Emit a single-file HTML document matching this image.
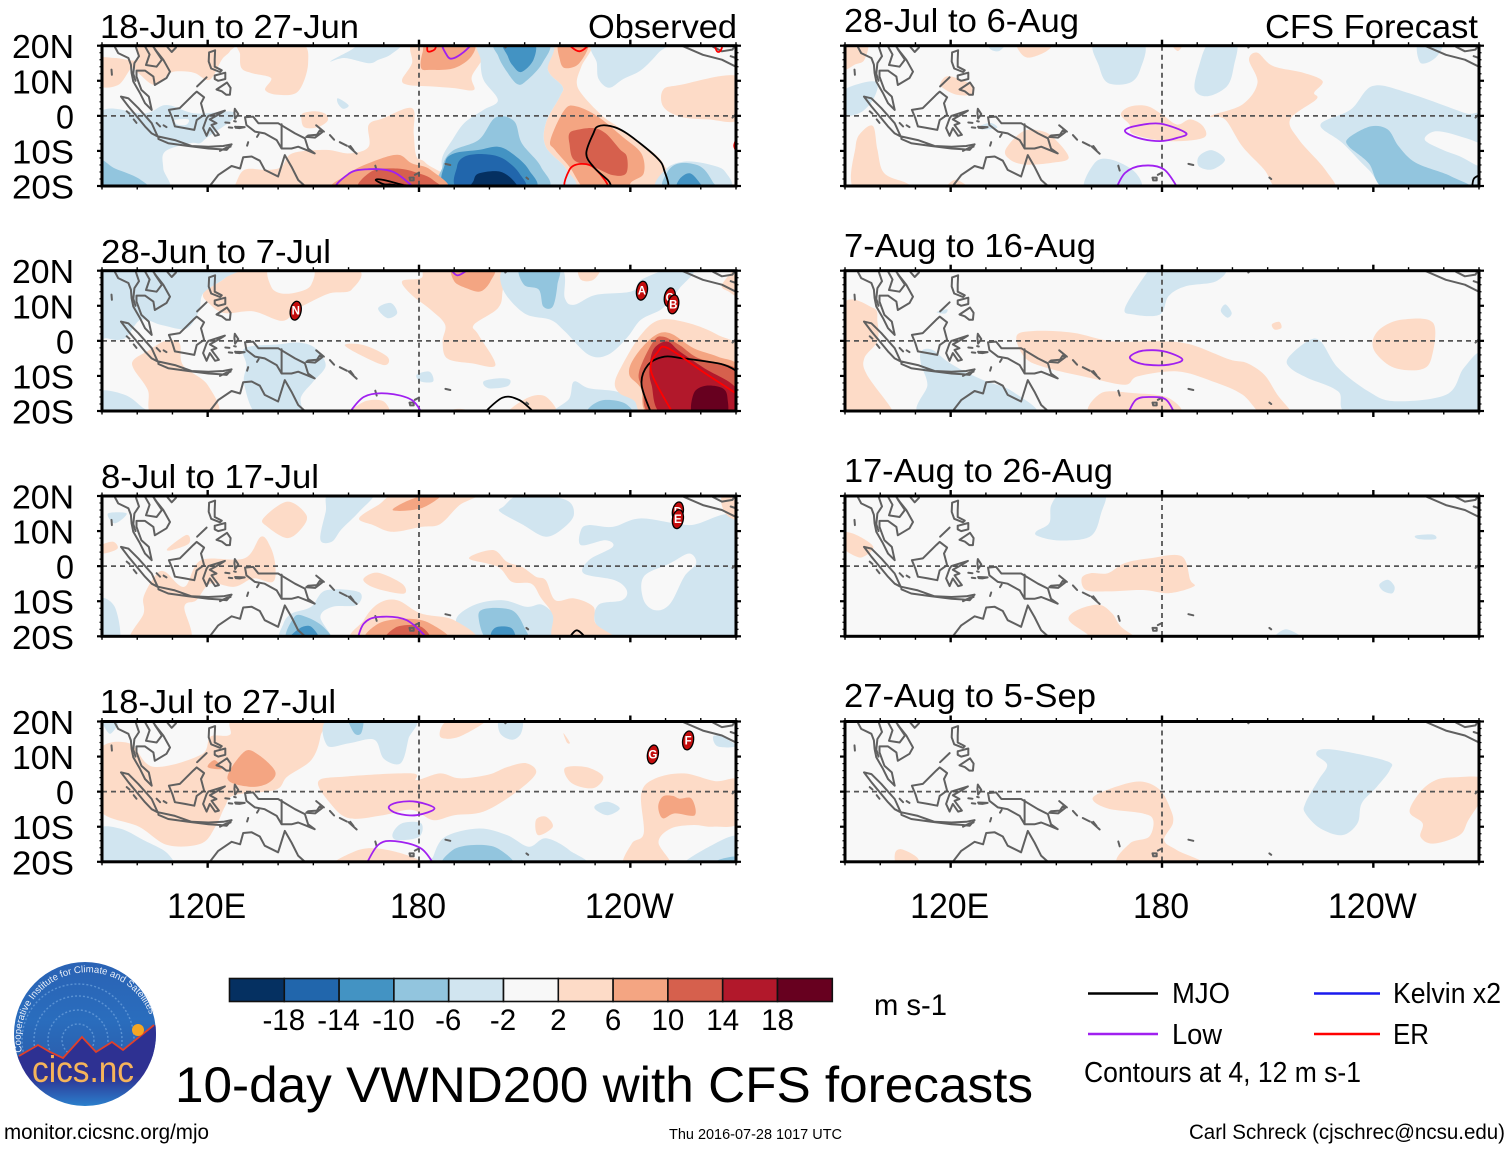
<!DOCTYPE html>
<html lang="en">
<head>
<meta charset="utf-8">
<title>10-day VWND200 with CFS forecasts</title>
<style>
html,body{margin:0;padding:0;background:#fff;}
svg{display:block;}
text{font-family:"Liberation Sans",sans-serif;fill:#000;}
</style>
</head>
<body>
<svg id="figure" xmlns="http://www.w3.org/2000/svg" width="1510" height="1149" viewBox="0 0 1510 1149">
<g id="panels"></g>

<g font-size="33.5">
<text x="100" y="38" textLength="259" lengthAdjust="spacingAndGlyphs">18-Jun to 27-Jun</text>
<text x="588" y="38" textLength="149" lengthAdjust="spacingAndGlyphs">Observed</text>
<text x="101" y="263" textLength="230" lengthAdjust="spacingAndGlyphs">28-Jun to 7-Jul</text>
<text x="101" y="488" textLength="218" lengthAdjust="spacingAndGlyphs">8-Jul to 17-Jul</text>
<text x="100" y="713" textLength="236" lengthAdjust="spacingAndGlyphs">18-Jul to 27-Jul</text>
<text x="844" y="32" textLength="235" lengthAdjust="spacingAndGlyphs">28-Jul to 6-Aug</text>
<text x="1265" y="38" textLength="213" lengthAdjust="spacingAndGlyphs">CFS Forecast</text>
<text x="844" y="257" textLength="252" lengthAdjust="spacingAndGlyphs">7-Aug to 16-Aug</text>
<text x="844" y="482" textLength="269" lengthAdjust="spacingAndGlyphs">17-Aug to 26-Aug</text>
<text x="844" y="707" textLength="252" lengthAdjust="spacingAndGlyphs">27-Aug to 5-Sep</text>
</g>

<g id="colorbar"></g>

<text x="874" y="1015" font-size="30" textLength="73" lengthAdjust="spacingAndGlyphs">m s-1</text>

<g font-size="29">
<line x1="1088" x2="1158" y1="993.5" y2="993.5" stroke="#000" stroke-width="2.4"/>
<text x="1172" y="1003" textLength="58" lengthAdjust="spacingAndGlyphs">MJO</text>
<line x1="1314" x2="1380" y1="993.5" y2="993.5" stroke="#1a1aee" stroke-width="2.4"/>
<text x="1393" y="1003" textLength="108" lengthAdjust="spacingAndGlyphs">Kelvin x2</text>
<line x1="1088" x2="1158" y1="1034" y2="1034" stroke="#a020f0" stroke-width="2.4"/>
<text x="1172" y="1044" textLength="50" lengthAdjust="spacingAndGlyphs">Low</text>
<line x1="1314" x2="1380" y1="1034" y2="1034" stroke="#f00" stroke-width="2.4"/>
<text x="1393" y="1044" textLength="36" lengthAdjust="spacingAndGlyphs">ER</text>
<text x="1084" y="1082" textLength="277" lengthAdjust="spacingAndGlyphs">Contours at 4, 12 m s-1</text>
</g>

<text x="175" y="1102" font-size="50" textLength="858" lengthAdjust="spacingAndGlyphs">10-day VWND200 with CFS forecasts</text>
<text x="4" y="1139" font-size="21" textLength="205" lengthAdjust="spacingAndGlyphs">monitor.cicsnc.org/mjo</text>
<text x="669" y="1139" font-size="14.5" textLength="173" lengthAdjust="spacingAndGlyphs">Thu 2016-07-28 1017 UTC</text>
<text x="1189" y="1139" font-size="21" textLength="316" lengthAdjust="spacingAndGlyphs">Carl Schreck (cjschrec@ncsu.edu)</text>

<g>
<defs>
<clipPath id="logoClip"><ellipse cx="85" cy="1034" rx="71" ry="72"/></clipPath>
<linearGradient id="logoSky" x1="0" y1="0" x2="0" y2="1">
<stop offset="0" stop-color="#2a62b4"/><stop offset="0.6" stop-color="#2a6dbd"/><stop offset="1" stop-color="#2b5fae"/>
</linearGradient>
<linearGradient id="logoBase" x1="0" y1="0" x2="0" y2="1">
<stop offset="0" stop-color="#2e3192"/><stop offset="0.6" stop-color="#2e3192"/><stop offset="1" stop-color="#2a8ad4"/>
</linearGradient>
</defs>
<g clip-path="url(#logoClip)">
<rect x="10" y="960" width="150" height="100" fill="url(#logoSky)"/>
<g fill="none" stroke="#5b93d4" stroke-width="1.4" stroke-dasharray="2 2">
<circle cx="78" cy="1040" r="16"/><circle cx="78" cy="1040" r="30"/><circle cx="78" cy="1040" r="44"/><circle cx="78" cy="1040" r="56"/>
</g>
<polygon points="12,1060 19,1056 38,1045 50,1052 63,1058 82,1037 96,1052 112,1042 123,1050 154,1025 162,1025 162,1110 10,1110" fill="url(#logoBase)"/>
<polyline points="19,1056 38,1045 50,1052 63,1058 82,1037 96,1052 112,1042 123,1050 154,1025" fill="none" stroke="#e0402a" stroke-width="1.8"/>
<circle cx="138" cy="1030" r="6" fill="#f5a623"/>
</g>
<path id="logoArc" d="M 22 1052 A 65 65 0 0 1 153 1026" fill="none"/>
<text font-size="9.6" style="fill:#e8eef8"><textPath href="#logoArc">Cooperative Institute for Climate and Satellites</textPath></text>
<text x="32" y="1082" font-size="37" style="fill:#f6b45a" textLength="102" lengthAdjust="spacingAndGlyphs">cics.nc</text>
</g>

<g id="axisText"></g>
</svg>

<script>
// ---------- Colour scale (wind anomaly, m/s) ----------
const colorTicks = [-18,-14,-10,-6,-2,2,6,10,14,18];
const colorSwatches = ['#053061','#2166ac','#4393c3','#92c5de','#d1e5f0','#f8f8f8','#fddbc7','#f4a582','#d6604d','#b2182b','#67001f'];

// ---------- Axis tick values ----------
const lonLabelTicks = [120,180,240];
const lonLabelText = ['120E','180','120W'];
const latLabelTicks = [20,10,0,-10,-20];
const latLabelText = ['20N','10N','0','10S','20S'];

// ---------- Coastlines (lon, lat) ----------
const coastLines = [
[[93.7,19.6],[94.6,17.9],[97.5,16.5],[98.2,14.6],[98.4,12.2],[98.9,9.8],[100.8,6.5],[102.2,3.6],[104.1,1.7],[103.3,5.5],[101.2,7.4],[99.8,11.2],[99.8,12.9],[102.2,12.9],[104.6,11.2],[105,8.8],[108.3,10.8],[109.3,12.6],[107.4,16],[105.5,18.4],[104,20.5]],
[[99.3,20.5],[100.5,17],[99.2,15],[98.9,12],[99.5,10]],
[[101.8,20.5],[103.5,17.5],[102.5,14.5],[105.5,14],[107,16],[105,19]],
[[108.6,20.5],[108.6,19.6],[109.8,18.2],[111,19.5],[111,20.5]],
[[92.7,13.2],[92.8,11.7]],
[[95.4,5.5],[97.5,5],[100.3,2.2],[104.1,-2.1],[105.8,-5.9],[104.1,-5],[102.2,-3],[100.3,-.7],[97.5,2.7],[95.4,5.5]],
[[106,-5.9],[110.7,-6.9],[115.4,-8.6],[120.2,-8.8],[124.4,-8.6],[126.8,-8.1],[125.4,-9.7],[123.5,-9.5],[120.2,-9.3],[114.5,-8.6],[108.8,-7.8],[106,-6.6],[106,-5.9]],
[[109,1.7],[112.1,2.2],[115.9,6],[116.9,6.9],[119,5.3],[118.1,3.6],[119,.3],[116.9,-1.2],[116.2,-4],[113.5,-3.5],[110.7,-3],[110,-.7],[109,1.7]],
[[120.2,0],[124.9,1.5],[123,.3],[120.6,-1],[122.5,-2.1],[121.1,-2.6],[123.2,-5.4],[122.1,-5.7],[120.6,-3.5],[119.7,-5.7],[118.7,-3.5],[119.7,-.7],[120.2,0]],
[[120.4,18.1],[122.1,18.7],[122,16],[122,14],[124,13],[123.5,12.5],[121,13.5],[120.3,15.5],[120.4,18.1]],
[[122,11.5],[125,12.3],[125,10.5],[123,10],[122,10.5],[122,11.5]],
[[122.5,7.5],[124,8.5],[125.5,9.5],[126.5,8],[126.3,6],[125.3,6],[124,7],[122.5,7.5]],
[[117,8.4],[119.7,11]],
[[127.7,2],[128.7,.5],[127.8,-.8],[127.6,.8],[127.7,2]],
[[97,1.3],[97.8,.6]],[[99,-1],[99.8,-2]],[[105.5,-2],[106.5,-3]],[[107.5,-2.7],[108.3,-3.2]],
[[127.8,-3.1],[130.5,-3.2],[129,-3.5],[128,-3.4],[127.8,-3.1]],[[126,-3.3],[127,-3.4]],
[[123.5,-10],[125.5,-9],[126.5,-8.8]],[[134,-6],[134.5,-5.2]],[[131.5,-7.5],[131.2,-8.5]],
[[127.5,-1.5],[128,-1.6]],[[125,-1.9],[126.2,-2]],
[[130.6,-.4],[132.9,-.2],[134.4,-2.1],[136.2,-2.1],[140,-2.1],[144.8,-5],[147.6,-6.4],[148.5,-9.3],[150.4,-10.7],[148,-9.7],[145.7,-8.8],[143.8,-9.3],[141,-9.3],[139.6,-6.9],[136.2,-5],[133.4,-4.5],[131,-2.6],[130.6,-.4]],
[[141,-2.4],[141,-9.2]],
[[148,-6],[150.5,-6.2],[152.5,-4.7],[151.8,-4.2],[151,-5.4],[148.5,-5.6],[148,-6]],
[[150.8,-2.7],[153,-4.5]],[[154.7,-5.5],[155.9,-6.8]],[[157.5,-7.5],[159.5,-8.5]],[[160,-8.7],[162.3,-10.8]],[[160.5,-8.6],[161.4,-9.8]],
[[167.6,-14.2],[168,-15.6]],
[[177.3,-17.6],[178.5,-17.6],[178.5,-18.4],[177.5,-18.4],[177.3,-17.6]],[[178.8,-16.8],[180,-16.2]],
[[187.5,-13.7],[188.9,-14]],[[210.5,-17.6],[211,-18]],[[204.5,19.5],[205.5,20.5]],[[269,-.5],[270,.5]],
[[254.6,20],[260.6,17.4],[266,16],[270,14]],
[[263.5,19.7],[266,18.4],[269,18.9],[270,20.5]],
[[268.5,17],[270,16.5],[270,15]],
[[118,-21.5],[120.6,-20],[123,-16.9],[126.8,-14.3],[129.2,-15],[130.1,-11.8],[132.5,-11.6],[134.8,-12.8],[136.2,-15.4],[140,-17.3],[141.9,-11.2],[143.8,-14.5],[145.7,-18.3],[147.6,-20],[150,-22]]
];

// ---------- Panel 1: 18-Jun to 27-Jun (value, outline in lon/lat) ----------
const field1 = [
[4,[[89,16],[93.7,16.5],[100.3,16],[102.2,21],[126.3,21],[126.3,18.4],[124,16],[120.6,10.3],[116.4,12.2],[112.6,12.7],[109.3,12.2],[105,8.8],[100.3,12.2],[98.4,13.6],[94.6,8.8],[89,8.8]]],
[4,[[129.6,21],[146,21],[148.5,15],[145.7,7],[140,6],[136.3,7.4],[138,10.8],[132.5,12.2],[129.6,13.6],[129.2,17.5]]],
[4,[[146.6,-1],[147,.7],[150.5,1.3],[153.5,.5],[154,-1.5],[151,-3.3],[147.5,-3.3]]],
[4,[[126,-21],[127.6,-20],[130.4,-15.4],[137,-15.4],[141,-14.5],[144,-10.7],[153.5,-9.7],[160.2,-10.7],[165.7,-8.8],[165.7,-2.6],[169.8,-.7],[178,2.2],[178.5,-5],[179.3,-11.6],[182,-13.5],[188,-21.5]]],
[4,[[175.2,10.3],[178,15],[179,21],[197,21],[198.3,17],[195,11.2],[195.6,7.4],[190,7.9],[183.3,8.4],[177,8.8]]],
[4,[[217.3,21],[229,21],[226.1,14.1],[224.8,9.3],[226.8,5.5],[232.3,-.2],[236.3,-3],[243.1,-7.8],[249.3,-13.5],[250,-21],[222,-21],[222,-15.4],[216,-8.8],[216,-2.1],[220,5.5],[220.7,8.4],[216.6,13.1]]],
[4,[[249.3,7.4],[254,8.8],[271,11.2],[271,-.8],[262,-1],[254,-.2],[249.3,2.7]]],
[-4,[[154.8,15.5],[160.2,18.5],[165,21],[175.2,21],[172,17.5],[168.5,16],[165.7,15],[158.9,16.5]]],
[-4,[[198,21],[217.3,21],[216.6,13.1],[220.7,8.4],[220,5.5],[216,-2.1],[216,-8.8],[222,-15.4],[222,-21],[188.8,-21],[186.7,-15.4],[186.7,-11.6],[189.5,-6.8],[192.9,-2],[198.3,1.7],[202.4,4.5],[198.3,10.3],[197.5,16]]],
[-4,[[230,21],[250,21],[248,18],[243,13],[238,10.5],[234,8],[231,10.5],[230.5,15]]],
[-4,[[157,5],[160,3],[158.5,2],[157,3.5]]],
[-4,[[89,.5],[102.2,.7],[108.3,3.1],[116.4,.7],[126.8,1.2],[126.8,-1.2],[120.2,-5.9],[117.8,-7.8],[115,-7.8],[107.9,-10.2],[107.4,-15],[108.3,-21.5],[89,-21.5]]],
[-4,[[248,-21],[250.3,-15],[256,-13],[263,-14],[267,-16],[267.5,-21]]],
[0,[[110.7,-1.2],[114.5,-1],[114,-2.5],[111.5,-2.5]]],
[-8,[[89,-12.6],[93.7,-15],[100.3,-17.8],[103.2,-21.5],[89,-21.5]]],
[-8,[[202,21],[216.5,21],[215,15],[210.5,10],[208,9],[205,12.5],[202.5,17]]],
[-12,[[204,21],[212.5,21],[212.5,16],[209,12.5],[206.5,14.5],[205.2,17]]],
[-8,[[187.5,-21],[186.7,-14.5],[189.5,-10],[197,-6.8],[201.7,-.5],[207,-1.5],[209.2,-7.8],[214.6,-14.5],[215.3,-21]]],
[-12,[[188.5,-21],[187.4,-13.5],[190,-10.7],[197,-9.7],[202.4,-8.8],[206.4,-10.7],[211.2,-15.4],[212,-21]]],
[-16,[[191.5,-21],[190.8,-14.5],[193,-11.6],[198.3,-10.9],[203.7,-12.1],[208.5,-16.4],[209.2,-21]]],
[-20,[[195,-21.5],[195.5,-18.5],[197,-16.4],[203,-15.9],[207,-18.7],[207.3,-21.5]]],
[-8,[[250,-21],[250.5,-16],[254,-13.5],[260,-14.5],[263.5,-19],[264,-21]]],
[-12,[[253.5,-21],[254,-18],[257,-16.4],[260,-19.5],[260.5,-21]]],
[8,[[180.6,13.6],[181,18],[183,21],[195,21],[194.9,17],[190,13.6],[183.3,13.1]]],
[8,[[220,21],[228,21],[225.5,15],[221.5,13.6],[220,16]]],
[8,[[156,-21.5],[160.2,-16.4],[165.7,-13.5],[173.8,-11.1],[177.9,-13.5],[183.3,-15.4],[187,-21.5]]],
[12,[[163.6,-21.5],[166.4,-15.9],[173.8,-15],[180,-16.4],[184,-18.3],[185.4,-21.5]]],
[16,[[172,-21.5],[173,-19.3],[177,-19.7],[180,-21.5]]],
[8,[[217.3,-6.9],[221.3,1.7],[224.7,2.7],[230.8,-.2],[237.7,-5.9],[243.1,-10.7],[243.8,-16.4],[240.4,-18.8],[238,-21.5],[228,-21.5],[222.7,-14.5],[218.6,-9.7]]],
[12,[[222.7,-5],[224.8,-4],[229.5,-3.5],[233,-5],[237,-9.5],[239,-11.6],[238.8,-16.4],[235,-16.9],[229.5,-14.5],[224,-12.6],[222.7,-7.8]]]
];
const contours1 = [
['er',true,[[222,-21.5],[222.7,-15.4],[226,-13.7],[230,-15],[233.6,-21.5]]],
['mjo',true,[[236.8,-21.5],[233.6,-18.3],[229.5,-14.5],[227.5,-10.7],[229.5,-5],[230.8,-3],[234.3,-2.9],[239,-5],[247.2,-11.6],[249.6,-15.4],[249.8,-21.5]]],
['low',true,[[157.2,-21.5],[160.2,-16.4],[165.7,-15.2],[172.5,-15.9],[178,-20],[178.5,-21.5]]],
['mjo',true,[[167.7,-18.3],[170,-18.3],[178,-20.5],[172.5,-19.6],[170,-19.5]]],
['low',true,[[186.8,21.5],[188.1,17],[190,16.5],[193.5,18.9],[195,21.5]]],
['er',true,[[182.5,18.4],[184.5,19],[184.7,21],[182.7,21]]],
['er',true,[[222,21.5],[225.5,18.4],[228.7,21.5]]],
['er',false,[[270,-6.8],[269.5,-8.5],[270,-10]]],
['er',true,[[264.2,20],[266,20],[265.5,18.4],[264.6,18.4]]]
];
const storms1 = [];

// ---------- Panel 2: 28-Jun to 7-Jul ----------
const field2 = [
[4,[[118.8,13.6],[124.9,17.9],[126.3,21],[160.9,21],[160.9,14.6],[154.8,13.6],[149.4,11.2],[145.3,8.9],[141.2,5.7],[133,8.4],[124.9,7.9],[120.8,10.3]]],
[0,[[137.8,21],[149.4,21],[149.4,16],[146,14],[141,13.5],[138,15.5]]],
[4,[[175.2,17],[180.6,17.9],[183.3,21],[203.7,21],[203.7,14.1],[202.4,9.3],[195.6,4.6],[196.9,1.7],[201.7,-6.9],[194.9,-6.4],[188,-5],[186.7,-.2],[187.4,4.6],[183.3,8.9],[177.9,13.1]]],
[4,[[158.9,-1.2],[164.3,-1.2],[171,-4.5],[170.3,-6.9],[164.3,-4.5]]],
[4,[[99,-5.4],[103,-2.9],[108,0],[112,-.7],[113,-6.9],[120,-12.6],[122.5,-21.5],[105,-21.5],[103,-14],[99,-8]]],
[4,[[160,-21.5],[164.5,-17.3],[170,-17.3],[171,-21.5]]],
[4,[[205,-21.5],[210.5,-16.4],[216,-15.9],[218.7,-21.5]]],
[4,[[187,-21.5],[190,-19.5],[194,-19.8],[195,-21.5]]],
[4,[[225.5,21],[231.5,21],[229.5,17.4],[226,17.4]]],
[4,[[266,16],[271,21],[271,13],[268,14]]],
[-4,[[89,21],[127,21],[124.9,17.9],[118.8,13.6],[117.5,8.5],[114,3.5],[107,4.5],[101,6],[96.5,.7],[91.5,.7],[89,2.5]]],
[-4,[[130.5,-2.1],[140,-1],[146,-.5],[150.6,-2.1],[153.5,-7],[150,-11.6],[146.5,-16],[146,-21.5],[134.5,-21.5],[130.4,-12.5],[131,-7]]],
[-4,[[89,-14.5],[96.5,-15.4],[101.5,-19],[104.5,-21.5],[89,-21.5]]],
[-4,[[205,21],[220,21],[221.4,12.2],[224.1,10.3],[230.2,13.1],[240.4,14.1],[243.1,17.4],[251.3,20.5],[258,20],[254,15],[249.2,9.3],[243,6],[239,.8],[233.6,-4],[228.2,-4],[221.4,2.7],[217.3,6],[209.8,7.9],[203.7,15]]],
[-8,[[208.9,21],[219.3,21],[219.3,16],[218,9.8],[215.3,9.8],[214,14.6],[209.8,16]]],
[-4,[[168.4,9.3],[172,10.8],[173.8,7.9],[171,6.5]]],
[-4,[[179.3,-9.7],[183,-8.8],[184,-11.6],[180.5,-11.6]]],
[-4,[[198.3,-11.6],[202.4,-10.7],[205.8,-11.1],[205,-13],[199.7,-13.5]]],
[-4,[[218.7,-21.5],[222.7,-16.4],[224,-11.6],[228.2,-13.5],[236.3,-14.5],[241.7,-17.3],[243.8,-21.5]]],
[-8,[[228.2,-21.5],[228.2,-19.2],[232.3,-16.9],[238.4,-17.8],[240.4,-21.5]]],
[4,[[235.6,-12],[237.7,-6.9],[243,1.7],[248.5,6],[256.7,5],[264.8,1.7],[271,-3],[271,-21.5],[245.8,-21.5],[241,-17],[237,-15]]],
[8,[[190,21],[190,17],[193.5,15],[197.5,14.1],[200.3,17],[201,21]]],
[8,[[239.7,-9.7],[241,-5],[246.5,1.2],[251.2,2.2],[258,-2.1],[264.8,-4.5],[271,-7.8],[271,-21.5],[246.5,-21.5],[243,-13.5]]],
[12,[[242.5,-8.8],[246.5,-.2],[249.3,1.2],[254,-1.2],[259.5,-5],[271,-8.8],[271,-21.5],[247,-21.5],[243.5,-13.5]]],
[16,[[245.5,-7],[246.8,-2.1],[250.5,-.2],[254,-3],[261,-7.8],[270,-13.5],[270,-21.5],[250,-21.5],[246,-12.5]]],
[20,[[258,-21.5],[258,-15],[261.4,-12.8],[266.2,-13.5],[267.6,-16.4],[266.8,-21.5]]]
];
const contours2 = [
['mjo',false,[[246.3,-21.5],[243.2,-12.6],[245,-6.9],[249.7,-4.5],[255,-5],[264.8,-6.4],[268.8,-7.8],[271,-9.5]]],
['er',false,[[252.6,-21.5],[245.9,-8.8],[247.9,-3],[250.7,-2.1],[260.6,-8.8],[270,-15]]],
['mjo',false,[[198,-21],[203.7,-16.2],[208.5,-16.9],[213.3,-21]]],
['low',false,[[159.5,-21.5],[164.3,-16],[171,-15],[178,-16.9],[181.3,-21.5]]],
['low',false,[[188.5,21],[190.8,18.7],[193.5,20]]]
];
const storms2 = [['N',145,8.6],['A',243.3,14.3],['C',251.2,12.4],['B',252.2,10.4]];

// ---------- Panel 3: 8-Jul to 17-Jul ----------
const field3 = [
[4,[[163,13.6],[168.4,17.4],[175.2,21],[197,21],[191.5,17.4],[186,12],[180.6,11.2],[172.5,9.8],[167,11.7]]],
[4,[[135.8,13.6],[142.6,18.4],[148,14.6],[146.7,10.8],[142.6,8],[137,11.2]]],
[4,[[89,5.5],[93,7],[94.4,5],[90.2,3.6]]],
[4,[[108.6,5],[114,8.9],[114.7,6.5],[110,4.6]]],
[4,[[101.8,-8.8],[105.2,-2.6],[107.9,-1.6],[113.4,-5.9],[118.1,1.7],[130.4,2.2],[135.1,8.4],[137.8,5.5],[139.2,.3],[138.5,-4.5],[133,-3.5],[127.6,-5.9],[120.8,-5],[116.8,-9.7],[113.4,-11.6],[114.7,-21.5],[98.4,-21.5],[101.8,-13.5]]],
[4,[[164.3,-3.5],[168.4,-1.9],[175.2,-5],[175.8,-7.8],[169.8,-6.9],[165.7,-5.4]]],
[-4,[[190.5,-15.5],[195.6,-11.1],[203.7,-9.7],[210.5,-11.6],[215,-11],[219,-15],[219,-21.5],[195,-21.5]]],
[4,[[162.3,-21.5],[164.3,-15.4],[168.4,-10.7],[173.8,-9.7],[180.6,-13.5],[190,-15.4],[194.9,-21.5]]],
[-4,[[226,10.3],[228.2,11.7],[235,11.2],[243.1,13.6],[256.7,11.7],[271,12.7],[271,-21.5],[236.3,-21.5],[230.2,-16.4],[231,-11],[237.7,-9.7],[239,-6.9],[235.6,-4],[226.8,-2.1],[228.2,1.7],[235,5.5],[232.9,7.4],[226,6]]],
[0,[[243.8,-3],[251.3,.8],[256.7,3.6],[258.7,.8],[255.3,-3],[251.3,-10.7],[247.2,-12.6],[243.8,-9.7]]],
[4,[[194.2,2.2],[201,4.6],[205,1.2],[209.2,-.2],[213.2,-3],[216,-4],[218.7,-9.7],[224,-9.2],[229.5,-11.6],[230.2,-16.4],[236.3,-21.5],[219,-21.5],[218,-14],[214.6,-9],[211.9,-5],[206.4,-4.5],[202.4,-.2]]],
[8,[[172.5,16],[179,19.5],[186.5,20.5],[180.6,16.5]]],
[8,[[165.7,-21.5],[168.4,-16.4],[176.5,-15],[183.3,-16.4],[188,-21.5]]],
[12,[[170.5,-21.5],[173.8,-17.3],[180.6,-17.3],[182.7,-21.5]]],
[-4,[[152,7.5],[153.5,15.5],[154.8,21],[167,21],[163,15.5],[158,10.5],[155.3,7]]],
[-4,[[204,17],[209.2,20.5],[221.4,19],[224,15],[221.4,11.2],[216,8.4],[209.2,12],[203,15.5]]],
[-8,[[196.9,-14.5],[199,-12.1],[206.4,-12.6],[209.8,-17.3],[210.5,-21.5],[200,-21.5]]],
[-12,[[200.5,-19],[202.4,-17.3],[206.4,-17.8],[207,-21.5],[201,-21.5]]],
[-4,[[141.5,-16.4],[143.9,-13.5],[149.4,-11.6],[153.5,-6.9],[163,-7.4],[162.3,-11.1],[155.5,-11.6],[152,-14.5],[154.8,-21.5],[141.2,-21.5]]],
[-8,[[142.6,-21.5],[144.6,-14.5],[148,-14.5],[152.8,-17.3],[154.8,-21.5]]],
[-12,[[142.9,-21.5],[146,-17.8],[149.4,-17.3],[151.4,-21.5]]],
[-4,[[89,-9.7],[93.6,-11.6],[95,-21.5],[89,-21.5]]],
[-4,[[91.7,15],[97,15],[93.6,12.2]]],
[4,[[266,20],[271,21],[271,13.5],[267,15]]]
];
const contours3 = [
['low',false,[[162.3,-21.5],[164.3,-16.4],[168.4,-14.5],[176.5,-15.4],[183.3,-21.5]]],
['mjo',false,[[222,-21.5],[224.8,-18.3],[228.2,-21.5]]]
];
const storms3 = [['D',253.5,15.6],['E',253.5,13.4]];

// ---------- Panel 4: 18-Jul to 27-Jul ----------
const field4 = [
[4,[[89,11.5],[97.7,13.8],[104.5,7.1],[118.1,10.5],[120.8,15.7],[126.3,16.2],[128.3,21],[151.4,21],[152,15.7],[149.4,9],[142.6,4.3],[139.2,.5],[127.6,-1],[124.9,-4.3],[122.2,-10],[118.1,-14.8],[108.6,-15.2],[100.5,-10],[89,-4.8]]],
[8,[[125.6,3.8],[130.4,11.4],[134.4,10.5],[139.2,5.7],[137.1,2.4],[131.7,1.4]]],
[8,[[120,7],[122,9],[124,6.5]]],
[4,[[151.4,2.9],[158.9,4.3],[177.9,5.2],[179.3,3.3],[186,5.2],[191.5,3.8],[199.6,4.8],[205,7],[210.5,8.1],[213.2,5.2],[207.1,-.5],[198.3,-5.7],[190,-6.7],[184,-8.1],[177.9,-5.2],[169.8,-6.7],[160.2,-7.6],[154.8,-3.3]]],
[4,[[186,15.7],[188.5,20.5],[199.6,21],[191.5,15.7]]],
[4,[[221.4,6.7],[227.5,7],[232.3,4.3],[229.5,1],[223.4,2.4]]],
[4,[[213.2,-8.1],[216,-7.1],[218,-10],[213.8,-12.4]]],
[4,[[156.2,-21.5],[161.6,-17.1],[168.4,-16.2],[178,-18.6],[180.6,-21.5]]],
[4,[[243.1,-.5],[247.2,3.8],[255.3,5.2],[264,3],[271,3],[271,-8.6],[263.5,-10],[258,-9.5],[251.5,-10.5],[248,-14.5],[251.3,-21.5],[238.4,-21.5],[240.4,-14.8],[243.8,-11.9]]],
[8,[[247.9,-4.3],[249.2,-1.4],[252,-1.2],[254,-2],[257.4,-2],[258.3,-6.7],[252.6,-6.2],[249.2,-7.6]]],
[4,[[221,16.7],[222,14],[222.8,14]]],
[-4,[[90,21],[95,21],[92.3,16.5]]],
[-4,[[153.9,13.2],[155,21],[178,21],[177,15],[174.8,8.1],[170,9.4],[167.3,14.8],[160.2,13.8]]],
[-8,[[160,21],[164,21],[163.6,16.7],[161.6,16.7]]],
[-4,[[203,21],[209,21],[209,16.7],[206.4,14.8],[203,16.7]]],
[-4,[[263.5,15.7],[266,15.7],[270,13],[264.8,12.9]]],
[-4,[[172.5,-12],[175.2,-9],[180.6,-9],[180,-12.9],[173.8,-13.8]]],
[-4,[[183.5,-21.5],[184,-18.6],[187.4,-12.9],[197,-10.5],[205,-12.4],[211.2,-15.7],[216,-13.3],[222.7,-16.7],[225.5,-21.5]]],
[-8,[[187.4,-21.5],[189.5,-16.7],[195.6,-15.2],[202.4,-16.2],[206.4,-21.5]]],
[-4,[[89,-11],[95,-10.5],[101.8,-13.8],[108.6,-17.6],[108.6,-21.5],[89,-21.5]]],
[-4,[[230.2,-3.8],[233.6,-2.9],[237,-4.8],[233.6,-6.7],[230.2,-5.2]]],
[-4,[[254.7,-21.5],[264,-14.8],[271,-12.9],[271,-21.5]]],
[-8,[[265,-19.5],[271,-18.5],[271,-21.5],[264,-21.5]]]
];
const contours4 = [
['low',true,[[171.4,-4.5],[173.8,-3.1],[179.3,-2.9],[184.4,-4.8],[179.3,-6.7],[173.8,-6.2]]],
['low',false,[[164.6,-21.5],[168.4,-15.2],[173.2,-14.1],[180.6,-16.2],[184.7,-21.5]]]
];
const storms4 = [['G',246.4,10.6],['F',256.4,14.6]];

// ---------- Panel 5: 28-Jul to 6-Aug ----------
const field5 = [
[4,[[89,21],[96.2,21],[95.5,16],[93,14.7],[89,13.2]]],
[4,[[139.3,21],[148.6,21],[147.3,18.5],[142.4,16.6],[139.8,18]]],
[4,[[117.1,9.4],[119,11.3],[122.7,10.4],[126.4,8.5],[125.8,6.1],[121.4,6.1],[117.7,8]]],
[4,[[93,-21.5],[93,-8.7],[94.9,-4.4],[98,-3],[99.2,-9.6],[101.1,-16.3],[107.3,-19.1],[110,-21.5]]],
[4,[[118.4,-21.5],[121.4,-18.2],[125.8,-21.5]]],
[4,[[135.6,-9.6],[140.6,-4.4],[146.1,-4.4],[149.8,-6.8],[153.5,-12],[148.6,-13.4],[141.2,-13.9],[136.9,-12.5]]],
[4,[[168.3,.4],[170.8,2.6],[175.7,2.8],[180,.4],[184.3,-2.5],[188,-1],[191.7,-3],[191.7,-6.3],[181.9,-7.2],[172,-5.3],[170.8,-2.5]]],
[4,[[193.6,-.1],[202.8,3.2],[207.1,9.4],[204.7,16],[207.1,18],[211.5,14.2],[220.1,12.3],[225.6,9.9],[223.2,6.6],[223.8,4.7],[216.4,-1],[218.9,-6.8],[226.3,-15.3],[228.7,-21.5],[213.9,-21.5],[209,-15.3],[202.8,-8.7],[197.9,-1]]],
[4,[[182.5,21],[186,21],[184.5,18.5]]],
[-4,[[89,6.6],[94.9,9.4],[99.2,9.4],[98,4.7],[94.3,.9],[89,.4]]],
[-4,[[130.7,21],[135.6,21],[133.8,18.5],[131.3,19]]],
[-4,[[161,21],[174.5,21],[173.8,13.2],[170.8,9.4],[164.6,9.4],[162.1,14.2]]],
[-4,[[189.3,7.5],[190.5,14.2],[193.6,21],[201,21],[200.4,14.2],[198.5,8.5],[193,5.6]]],
[-4,[[128.2,-3],[131.3,-2],[133.2,-3.4],[128.8,-3.9]]],
[-4,[[158.4,-21.5],[160.9,-13.4],[165.8,-12.5],[172.6,-16.3],[173.2,-21.5]]],
[-4,[[190.5,-11.5],[194.2,-9.8],[197.9,-12.5],[194.2,-15.3],[190.5,-14.4]]],
[-4,[[225,-2.5],[233.6,1.8],[239.8,8.5],[249.7,6.6],[265.7,.9],[271,-1],[271,-21.5],[246,-21.5],[238.6,-15.3],[231.2,-7.7]]],
[0,[[254.6,-6.8],[257.7,-4.4],[264.5,-5.8],[271,-8.7],[271,-14.4],[264.5,-11.5],[259.5,-9.6]]],
[-8,[[233,-6.3],[239.2,-3],[244.1,-3.9],[247.2,-8.7],[252.1,-13.4],[262,-17.2],[268.2,-21.5],[244.7,-21.5],[238.6,-13.4],[233,-8.7]]],
[-4,[[252.8,21],[259.6,21],[257.7,16.6],[253.4,15.1]]]
];
const contours5 = [
['low',true,[[169.5,-4.4],[172,-3],[179.4,-2.2],[186.8,-4.9],[184.3,-6.3],[179.4,-7.2],[173.2,-6.3]]],
['low',false,[[166.6,-21.5],[169.5,-16.3],[174.5,-14.2],[180.6,-15.3],[185,-21.5]]],
['mjo',false,[[268,-21.5],[268.5,-18],[270.5,-16.8]]]
];
const storms5 = [];

// ---------- Panel 6: 7-Aug to 16-Aug ----------
const field6 = [
[4,[[89,9.4],[98,9.4],[99.2,5.6],[99.2,-.1],[95.5,-4.9],[96.2,-9.6],[103,-19.1],[103,-21.5],[89,-21.5]]],
[4,[[138.7,1.3],[143.6,2.8],[154.7,2.3],[165.8,-.1],[179.4,-.1],[188,-1],[199.1,-5.3],[204,-6.3],[209,-9.6],[212.7,-15.3],[217,-21.5],[209,-21.5],[202.8,-15.3],[194.2,-11.5],[184.3,-8.7],[173.2,-10.1],[169.5,-12.5],[159.7,-10.6],[147.3,-7.7],[141.2,-4.9]]],
[4,[[160.3,-21.5],[162.7,-14.9],[172,-14.9],[181.9,-16.3],[184.3,-21.5]]],
[4,[[211.2,4.7],[213.3,5.4],[213.9,3.7],[212,3.2]]],
[4,[[239.8,-.1],[242.3,3.7],[248.4,6.1],[257,5.1],[256.5,-4.9],[253.4,-8.2],[246,-7.7],[241,-3.9]]],
[-4,[[169.5,9.4],[175.7,19.4],[178,21],[197,21],[195.4,17],[186.8,15.6],[181.9,12.8],[179.4,7.5],[172,7.5]]],
[-4,[[162.5,21],[164,21],[163.5,19.5]]],
[-4,[[196.7,8.5],[198,10.4],[199.8,8],[198.6,6.6]]],
[-4,[[116,8.2],[119,9],[118.5,7.8]]],
[-4,[[111.6,-3],[114.7,-2.5],[119,-5.8],[123.9,-8.7],[130,-11.5],[137.5,-14.4],[143.6,-21.5],[112.2,-21.5],[113.4,-12.5],[111.6,-6.8]]],
[-4,[[215.8,-4.9],[221.3,-.1],[225,-.1],[230,-7.7],[238.6,-14.4],[246,-17.2],[260.8,-15.3],[265.7,-7.7],[271,-3.9],[271,-21.5],[234.9,-21.5],[230,-14.4],[221.3,-10.6],[216.4,-7.7]]]
];
const contours6 = [
['low',true,[[171,-4.4],[174.5,-2.8],[180.6,-3],[185.8,-5.3],[181.9,-6.8],[175.7,-6.8],[172,-5.8]]],
['low',false,[[170,-21.5],[172.6,-16.8],[176.9,-16],[181.2,-16.8],[184,-21.5]]]
];
const storms6 = [];

// ---------- Panel 7: 17-Aug to 26-Aug ----------
const field7 = [
[4,[[89,9.5],[93,9],[98,5.6],[95.5,2.8],[93,2.8],[89,5.6]]],
[4,[[157.2,-3.4],[159.7,-2],[164.6,-2],[169.5,.9],[176.9,2.3],[185.6,2.8],[188,-3.9],[189,-5.8],[181.9,-7.7],[174.5,-6.8],[164.6,-7.2],[158.4,-6.8]]],
[4,[[153.5,-15.3],[156,-12.5],[162.1,-11],[165.8,-13.4],[168.3,-17.2],[173.2,-21.5],[162,-21.5],[158.4,-19.1]]],
[4,[[176.9,20.5],[178.5,20.5],[178,19.5]]],
[-4,[[144.3,9.9],[148,12.3],[148.6,17.5],[152.3,21],[163.4,21],[162.7,15.1],[159.7,8.5],[151,7.3],[144.9,8.5]]],
[-4,[[241.7,-5.3],[244.1,-3.9],[246,-5.8],[245.4,-7.7],[243,-7.2]]],
[-4,[[252,8.7],[257,9],[257.6,7.7],[253,7.7]]],
[-4,[[211.5,-21.5],[215.2,-18],[220.7,-21.5]]]
];
const contours7 = [];
const storms7 = [];

// ---------- Panel 8: 27-Aug to 5-Sep ----------
const field8 = [
[4,[[160.3,-1.9],[165.8,1],[173.8,2.9],[179.4,.5],[182.5,-5.2],[183.1,-9],[180.6,-13.8],[184.3,-16.7],[191.7,-21],[168.3,-21],[170.8,-14.8],[176.3,-12.9],[177.5,-8.1],[174.5,-6.2],[164.6,-4.8]]],
[4,[[104.2,-17.6],[106,-16.4],[110.3,-18.6],[110.7,-21],[105,-21]]],
[4,[[250.3,-5.7],[253.4,0],[257.7,3.3],[263.2,4.1],[271,3.8],[271,-1.4],[267,-8.1],[264.5,-12.4],[257,-14.8],[253.4,-12.9],[254,-9]]],
[-4,[[223.8,10.5],[225.6,12.1],[232.4,11.4],[244.1,8.6],[244.7,6.2],[241,1.4],[236.7,-3.3],[235.5,-9],[231.2,-12.4],[225,-10.5],[220.7,-6.2],[220.7,-3.3],[224.4,3.3],[226.9,7.6]]]
];
const contours8 = [];
const storms8 = [];

const panelFields = [field1,field2,field3,field4,field5,field6,field7,field8];
const panelContours = [contours1,contours2,contours3,contours4,contours5,contours6,contours7,contours8];
const panelStorms = [storms1,storms2,storms3,storms4,storms5,storms6,storms7,storms8];

// ---------- Layout and scales ----------
const SVGNS = 'http://www.w3.org/2000/svg';
const colX0 = [102,845];
const rowY0 = [45.7,270.7,496,721.5];
const panelW = 634, panelH = 140.3;
const contourColors = {mjo:'#000000',low:'#a020f0',er:'#ff0000',kelvin:'#1a1aee'};

function lonScale(x0,lon){return x0+(lon-90)/180*panelW;}
function latScale(y0,lat){return y0+(20-lat)/40*panelH;}
function colorOf(v){let i=0;while(i<colorTicks.length&&v>colorTicks[i])i++;return colorSwatches[i];}
function make(tag,attrs,parent){const e=document.createElementNS(SVGNS,tag);for(const k in attrs)e.setAttribute(k,attrs[k]);parent.appendChild(e);return e;}
function smoothPath(p,closed){
  const n=p.length;let d='M'+p[0][0].toFixed(1)+' '+p[0][1].toFixed(1);
  const at=i=>closed?p[(i+n)%n]:p[Math.max(0,Math.min(n-1,i))];
  const last=closed?n:n-1;
  for(let i=0;i<last;i++){
    const a=at(i-1),b=at(i),c=at(i+1),e=at(i+2);
    d+='C'+(b[0]+(c[0]-a[0])/6).toFixed(1)+' '+(b[1]+(c[1]-a[1])/6).toFixed(1)+' '+(c[0]-(e[0]-b[0])/6).toFixed(1)+' '+(c[1]-(e[1]-b[1])/6).toFixed(1)+' '+c[0].toFixed(1)+' '+c[1].toFixed(1);
  }
  return d+(closed?'Z':'');
}

function drawPanel(idx,x0,y0,showY,showX){
  const root=document.getElementById('panels');
  const g=make('g',{},root);
  
  
  const X=lon=>lonScale(x0,lon),Y=lat=>latScale(y0,lat);
  const clipId='clip'+idx;
  const cp=make('clipPath',{id:clipId},g);
  make('rect',{x:x0,y:y0,width:panelW,height:panelH},cp);
  const bg=make('rect',{x:x0,y:y0,width:panelW,height:panelH,fill:colorOf(0)},g);
  
  
  const body=make('g',{'clip-path':'url(#'+clipId+')'},g);

  panelFields[idx].forEach(function(f){
    const pts=f[1].map(q=>[X(q[0]),Y(q[1])]);
    const el=make('path',{d:smoothPath(pts,true),fill:colorOf(f[0])},body);
    
    
  });

  coastLines.forEach(function(line){
    const el=make('polyline',{points:line.map(q=>X(q[0]).toFixed(1)+','+Y(q[1]).toFixed(1)).join(' '),fill:'none',stroke:'#606060','stroke-width':2,'stroke-linejoin':'round','stroke-linecap':'round'},body);
    
    
  });

  const eq=make('line',{x1:x0,x2:x0+panelW,y1:Y(0),y2:Y(0),stroke:'#555','stroke-width':1.8,'stroke-dasharray':'5 4'},body);
  
  
  const dl=make('line',{x1:X(180),x2:X(180),y1:y0,y2:y0+panelH,stroke:'#555','stroke-width':1.8,'stroke-dasharray':'5 4'},body);
  
  

  panelContours[idx].forEach(function(c){
    const pts=c[2].map(q=>[X(q[0]),Y(q[1])]);
    const el=make('path',{d:smoothPath(pts,c[1]),fill:'none',stroke:contourColors[c[0]],'stroke-width':1.8},body);
    
    
  });

  panelStorms[idx].forEach(function(s){
    const sg=make('g',{},g);
    
    
    const cx=X(s[1]),cy=Y(s[2]);
    make('ellipse',{cx:cx,cy:cy,rx:5.4,ry:9.5,fill:'#c40d0d',stroke:'#000','stroke-width':1.3,transform:'rotate(10 '+cx+' '+cy+')'},sg);
    const t=make('text',{x:cx,y:cy+4,'font-size':11.5,'font-weight':'bold','text-anchor':'middle'},sg);
    t.style.fill='#ffffff';
    t.textContent=s[0];
  });

  const axis=make('g',{stroke:'#000',fill:'none'},g);
  
  
  make('rect',{x:x0,y:y0,width:panelW,height:panelH,'stroke-width':3},axis);
  for(let lon=90;lon<=270;lon+=10){
    const major=lonLabelTicks.indexOf(lon)>=0;
    const len=major?6:3.5;
    make('line',{x1:X(lon),x2:X(lon),y1:y0-len,y2:y0,'stroke-width':major?2.4:1.4},axis);
    make('line',{x1:X(lon),x2:X(lon),y1:y0+panelH,y2:y0+panelH+len,'stroke-width':major?2.4:1.4},axis);
  }
  for(let lat=-20;lat<=20;lat+=2){
    const major=lat%10===0;
    const len=major?5:2.5;
    make('line',{x1:x0-len,x2:x0,y1:Y(lat),y2:Y(lat),'stroke-width':major?2.2:1.2},axis);
    make('line',{x1:x0+panelW,x2:x0+panelW+len,y1:Y(lat),y2:Y(lat),'stroke-width':major?2.2:1.2},axis);
  }

  const labels=document.getElementById('axisText');
  if(showY){
    latLabelTicks.forEach(function(lat,i){
      const t=make('text',{x:74,y:Y(lat)+12.5,'font-size':33.5,'text-anchor':'end'},labels);
      
      
      t.setAttribute('textLength',latLabelText[i].length===1?18:62);
      t.setAttribute('lengthAdjust','spacingAndGlyphs');
      t.textContent=latLabelText[i];
    });
  }
  if(showX){
    lonLabelTicks.forEach(function(lon,i){
      const t=make('text',{x:X(lon)-1,y:918,'font-size':35,'text-anchor':'middle'},labels);
      
      
      t.setAttribute('textLength',lonLabelText[i].length===3?56:(lonLabelText[i]==='120W'?89:79));
      t.setAttribute('lengthAdjust','spacingAndGlyphs');
      t.textContent=lonLabelText[i];
    });
  }
}

for(let c=0;c<2;c++){
  for(let r=0;r<4;r++){
    drawPanel(c*4+r,colX0[c],rowY0[r],c===0,r===3);
  }
}

// ---------- Colour bar ----------
(function(){
  const bar=document.getElementById('colorbar');
  const bx=229.5,by=978.5,bw=54.8,bh=23;
  colorSwatches.forEach(function(col,i){
    const el=make('rect',{x:bx+i*bw,y:by,width:bw,height:bh,fill:col,stroke:'#111','stroke-width':1.6},bar);
    
    
  });
  colorTicks.forEach(function(v,i){
    const t=make('text',{x:bx+(i+1)*bw+(v<0?-0.5:0),y:1030,'font-size':29.5,'text-anchor':'middle'},bar);
    
    
    t.textContent=String(v);
  });
})();
</script>
</body>
</html>
